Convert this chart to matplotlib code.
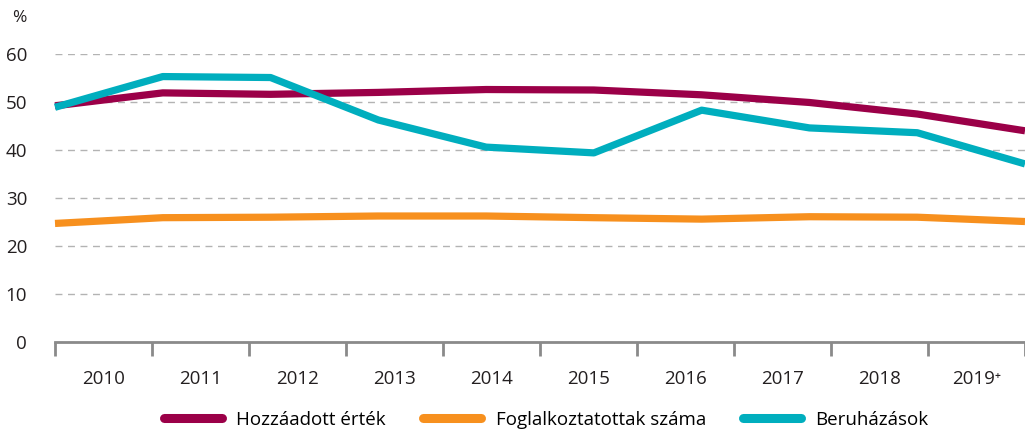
import numpy as np
import matplotlib
matplotlib.use("Agg")
import matplotlib.pyplot as plt
from matplotlib.lines import Line2D

plt.rcParams['font.family'] = ['Open Sans', 'DejaVu Sans']

years = ["2010", "2011", "2012", "2013", "2014", "2015", "2016", "2017", "2018", "2019⁺"]
hozzaadott = [49.2, 51.9, 51.6, 52.0, 52.6, 52.5, 51.5, 49.9, 47.5, 44.0]
foglalkoztatottak = [24.7, 25.9, 26.0, 26.25, 26.25, 25.9, 25.6, 26.1, 26.0, 25.1]
beruhazasok = [48.9, 55.3, 55.1, 46.25, 40.6, 39.4, 48.3, 44.6, 43.6, 37.1]
series_names = ["Hozzáadott érték", "Foglalkoztatottak száma", "Beruházások"]
colors = ["#9B0048", "#F7901E", "#00AEBE"]

fig = plt.figure(figsize=(10.25, 4.3), dpi=100)
ax = fig.add_axes([55/1025, 1-342/430, 970/1025, (342-54)/430])

n = len(years)
xs = np.linspace(0, n, n)
for vals, c, name in zip([hozzaadott, foglalkoztatottak, beruhazasok], colors, series_names):
    ax.plot(xs, vals, color=c, lw=5.2, solid_capstyle='butt', solid_joinstyle='round',
            clip_on=False, label=name, zorder=3)

ax.set_xlim(0, n)
ax.set_ylim(0, 60)
ax.set_yticks(range(0, 61, 10))
ax.yaxis.grid(True, color="#b3b3b3", linestyle=(0, (5, 4)), lw=1)
ax.set_axisbelow(True)
ax.tick_params(axis='y', length=0, pad=20, labelsize=13.5, labelcolor="#231f20")
for s in ['top', 'right', 'left']:
    ax.spines[s].set_visible(False)
ax.spines['bottom'].set_color("#8a8a8a")
ax.spines['bottom'].set_linewidth(2)

ax.set_xticks(np.arange(0, n + 1))
ax.set_xticklabels([])
ax.tick_params(axis='x', which='major', length=10, width=2, color="#8a8a8a", direction='out')
ax.set_xticks(np.arange(n) + 0.5, minor=True)
ax.set_xticklabels(years, minor=True)
ax.tick_params(axis='x', which='minor', length=0, pad=20, labelsize=13.5, labelcolor="#231f20")

fig.text(12/1025, 1-18/430, "%", fontsize=12.5, color="#231f20", va='center', ha='left')

handles = [Line2D([0], [0], color=c, lw=6.5, solid_capstyle='round') for c in colors]
fig.legend(handles, series_names, loc='center', bbox_to_anchor=(0.533, 1-420/430), ncol=3,
           frameon=False, fontsize=13.5, handlelength=3.1, columnspacing=2.0, handletextpad=0.75)

fig.savefig("out.png", dpi=100)
